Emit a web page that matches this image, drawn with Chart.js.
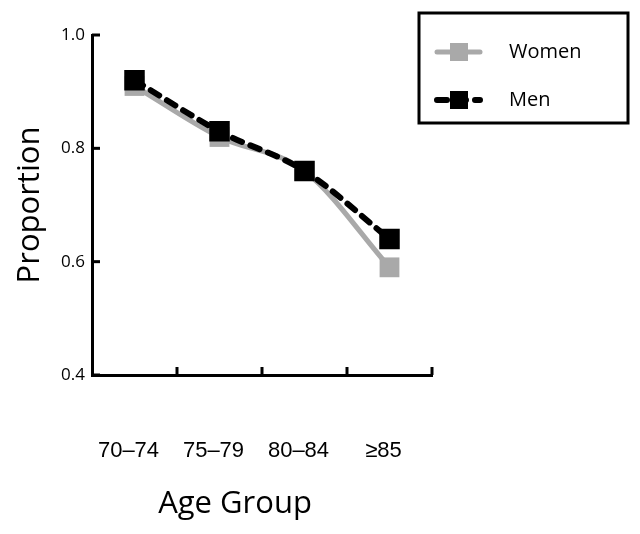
<!DOCTYPE html>
<html>
<head>
<meta charset="utf-8">
<script src="https://cdn.jsdelivr.net/npm/chart.js@4.4.1/dist/chart.umd.min.js"></script>
<style>
    body { margin: 0; background: #fff; }
    #wrap { width: 640px; height: 534px; }
</style>
</head>
<body>
<div id="wrap"><canvas id="myChart" width="640" height="534"></canvas></div>
<script>
const ageGroups = ['70\u201374', '75\u201379', '80\u201384', '\u226585'];
const women = [0.91, 0.82, 0.76, 0.59];
const men = [0.92, 0.83, 0.76, 0.64];
const yTicks = [0.4, 0.6, 0.8, 1.0];
const X_TITLE = 'Age Group';
const Y_TITLE = 'Proportion';

// inner tick marks, x-axis title and the boxed legend
const extras = {
    id: 'extras',
    afterDraw(chart) {
        const ctx = chart.ctx;
        const x = chart.scales.x, y = chart.scales.y;
        ctx.save();
        ctx.strokeStyle = '#000';
        ctx.lineWidth = 3;
        // y ticks point right into the plot
        yTicks.forEach(v => {
            const py = y.getPixelForValue(v);
            ctx.beginPath();
            ctx.moveTo(x.left, py);
            ctx.lineTo(x.left + 8, py);
            ctx.stroke();
        });
        // x ticks sit on category boundaries and point up
        for (let i = 0; i < ageGroups.length; i++) {
            const px = x.getPixelForValue(i + 0.5);
            ctx.beginPath();
            ctx.moveTo(px, y.bottom);
            ctx.lineTo(px, y.bottom - 8);
            ctx.stroke();
        }

        ctx.fillStyle = '#000';
        ctx.font = '31px "Open Sans"';
        ctx.textAlign = 'center';
        ctx.textBaseline = 'middle';
        ctx.fillText(X_TITLE, 235, 504);

        // legend
        ctx.lineWidth = 3;
        ctx.strokeRect(419, 13, 209, 110);
        const order = [0, 1];
        order.forEach((di, k) => {
            const ds = chart.data.datasets[di];
            const ly = 52 + k * 48;
            ctx.save();
            ctx.strokeStyle = ds.borderColor;
            ctx.lineWidth = ds.borderWidth;
            ctx.lineCap = 'round';
            ctx.setLineDash(ds.borderDash || []);
            ctx.beginPath();
            ctx.moveTo(437, ly);
            ctx.lineTo(480, ly);
            ctx.stroke();
            ctx.restore();
            ctx.fillStyle = ds.pointBackgroundColor;
            ctx.fillRect(450, ly - 9, 18, 18);
            ctx.fillStyle = '#000';
            ctx.font = '20px "Open Sans"';
            ctx.textAlign = 'left';
            ctx.fillText(ds.label, 509, ly);
        });
        ctx.restore();
    }
};

const ctx = document.getElementById('myChart').getContext('2d');
const myChart = new Chart(ctx, {
    type: 'line',
    data: {
        labels: ageGroups,
        datasets: [{
            label: 'Women',
            data: women,
            borderColor: '#a9a9a9',
            borderWidth: 5,
            pointStyle: 'rect',
            pointRadius: 14,
            pointBackgroundColor: '#a9a9a9',
            pointBorderWidth: 0,
            cubicInterpolationMode: 'monotone',
            order: 1
        }, {
            label: 'Men',
            data: men,
            borderColor: '#000',
            borderWidth: 6,
            borderDash: [10, 9],
            borderCapStyle: 'round',
            pointStyle: 'rect',
            pointRadius: 14.5,
            pointBackgroundColor: '#000',
            pointBorderWidth: 0,
            cubicInterpolationMode: 'monotone',
            order: 0
        }]
    },
    options: {
        responsive: false,
        animation: false,
        layout: {padding: {top: 35, right: 208, left: 0, bottom: 0}},
        scales: {
            x: {
                type: 'category',
                offset: true,
                grid: {offset: true, drawOnChartArea: false, drawTicks: false},
                border: {color: '#000', width: 3},
                ticks: {
                    color: '#000',
                    font: {family: '"Liberation Sans"', size: 22},
                    padding: 63,
                    labelOffset: -6,
                    maxRotation: 0
                },
                afterFit: function (scale) {
                    scale.height = 159;
                }
            },
            y: {
                min: 0.4,
                max: 1.0,
                grid: {drawOnChartArea: false, drawTicks: false},
                border: {color: '#000', width: 3},
                afterBuildTicks: function (scale) {
                    scale.ticks = yTicks.map(v => ({value: v}));
                },
                ticks: {
                    color: '#000',
                    font: {family: '"Open Sans"', size: 17},
                    padding: 7,
                    callback: function (val) {
                        return Number(val).toFixed(1);
                    }
                },
                title: {
                    display: true,
                    text: Y_TITLE,
                    color: '#000',
                    font: {family: '"Open Sans"', size: 31},
                    padding: {top: 12, bottom: 0}
                },
                afterFit: function (scale) {
                    scale.width = 92;
                }
            }
        },
        plugins: {
            legend: {display: false},
            tooltip: {enabled: false}
        }
    },
    plugins: [extras]
});
</script>
</body>
</html>
